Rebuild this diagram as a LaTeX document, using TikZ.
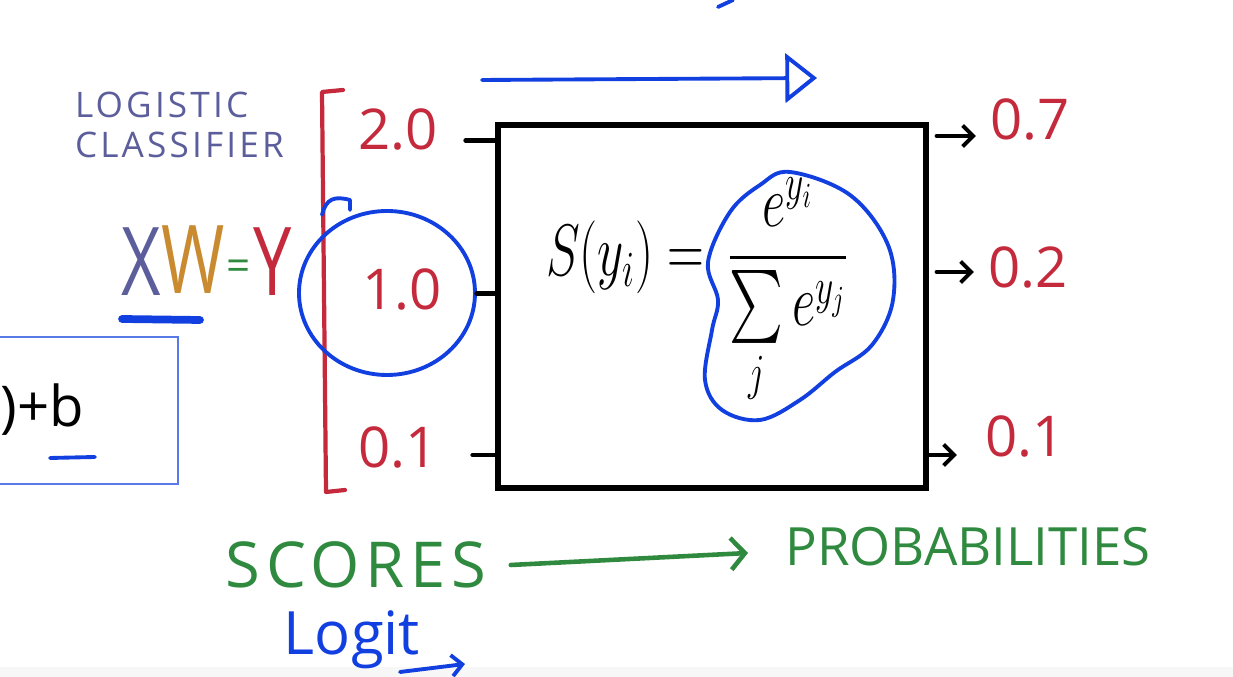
\documentclass[tikz,border=0pt]{standalone}
\usepackage{amsmath}
\usepackage{fontspec}
\setmainfont{Open Sans}
\newfontfamily\spacedfont[LetterSpace=9]{Open Sans}
\usetikzlibrary{arrows.meta, positioning, calc, shapes.geometric}

\definecolor{penblue}{HTML}{1240E0}
\definecolor{penred}{HTML}{C42A3C}
\definecolor{pengreen}{HTML}{2F8A3F}
\definecolor{penslate}{HTML}{5C5E9C}
\definecolor{penorange}{HTML}{C98A30}

\begin{document}
\begin{tikzpicture}[
    x=0.01cm, y=-0.01cm,
    every node/.style={inner sep=0pt, outer sep=0pt},
    hand/.style={line cap=round, line join=round},
    label/.style={font=\spacedfont\fontsize{10}{12}\selectfont, text=penslate},
    score/.style={font=\fontsize{16}{18}\selectfont, text=penred},
    bigsym/.style={font=\fontsize{27}{30}\selectfont, xscale=0.72},
    note/.style={font=\fontsize{18}{20}\selectfont, text=pengreen},
    stub/.style={hand, line width=1.4pt, black},
    outarr/.style={hand, line width=1.1pt, black, -{Straight Barb[length=3pt, width=6pt]}},
    blueline/.style={hand, line width=1.1pt, penblue}
]
\useasboundingbox (0,0) rectangle (1233,677);
\fill[black!3] (0,667) rectangle (1233,677);

% left part
\node[label, anchor=west] (logistic) at (75,105) {LOGISTIC};
\node[label, below=4pt of logistic.south west, anchor=north west] (classifier) {CLASSIFIER};

\node[bigsym, text=penslate]  (xsym) at (141,262) {X};
\node[bigsym, text=penorange] (wsym) at (193,260) {W};
\node[font=\fontsize{12}{14}\selectfont, text=pengreen] (eqsym) at (239,270) {=};
\node[bigsym, text=penred]    (ysym) at (273,262) {Y};
\draw[hand, line width=2.2pt, penblue] (122,319) -- (200,320);

\draw[penblue!70, line width=0.6pt] (-10,337) rectangle (178,484);
\node[font=\fontsize{16}{19}\selectfont, anchor=west] (bplus) at (1,410) {)+b};
\draw[blueline] (50,458) -- (95,457);

% scores
\draw[hand, line width=1.2pt, penred] (343,90) -- (322,92) -- (326,492) -- (345,490);
\node[score] (sc1) at (398,130) {2.0};
\node[score] (sc2) at (402,290) {1.0};
\node[score] (sc3) at (398,448) {0.1};

\draw[blueline] (387,293) ellipse [x radius=88, y radius=82];
\draw[blueline] (322,215) .. controls (326,198) and (335,196) .. (350,200) -- (350,210);

% softmax box
\node[draw, line width=1.5pt, minimum width=428*0.01cm, minimum height=363*0.01cm,
      anchor=north west] (sbox) at (498,125) {};
\draw[stub, shorten <=8pt] ([yshift=-3pt]sc1.east) -- ([yshift=-3pt]sc1.east -| sbox.west);
\draw[stub, shorten <=10pt] ([yshift=-1pt]sc2.east) -- ([yshift=-1pt]sc2.east -| sbox.west);
\draw[stub, shorten <=10pt] ([yshift=-2pt]sc3.east) -- ([yshift=-2pt]sc3.east -| sbox.west);

\node[font=\fontsize{20}{24}\selectfont, anchor=west, xscale=0.7] (formula) at (546,292)
  {$S(y_i) = \,\dfrac{e^{y_i}}{\sum\limits_j e^{y_j}}$};
\draw[blueline] plot[smooth cycle, tension=0.6] coordinates {
  (790,172) (850,195) (888,245) (893,300) (872,345) (835,372) (800,400)
  (760,420) (722,410) (705,380) (712,330) (718,300) (708,262) (730,212) (760,185)};

% top arrow
\draw[blueline, -{Triangle[open, length=9pt, width=14pt, line width=1.1pt]}] (482,80) -- (817,78);
\draw[blueline] (718,7) -- (733,0);

% probabilities
\node[score, anchor=west] (pr1) at (990,120) {0.7};
\node[score, anchor=west] (pr2) at (988,268) {0.2};
\node[score, anchor=west] (pr3) at (985,437) {0.1};
\draw[outarr, shorten <=3pt, shorten >=4pt] (sbox.east |- 0,136) -- (pr1.west |- 0,136);
\draw[outarr, shorten <=3pt, shorten >=4pt] (sbox.east |- 0,272) -- (pr2.west |- 0,272);
\draw[outarr, shorten >=8pt] (sbox.east |- 0,455) -- (pr3.west |- 0,455);

% captions
\node[note, font=\spacedfont\fontsize{18}{20}\selectfont] (scores) at (356,565) {SCORES};
\node[note, font=\fontsize{15}{18}\selectfont] (probs) at (968,547) {PROBABILITIES};
\coordinate (gtip) at (748,553);
\draw[hand, line width=1.3pt, pengreen, -{Straight Barb[length=4pt, width=9pt]}]
  ([xshift=7pt]scores.east) -- (gtip);
\node[font=\fontsize{17}{20}\selectfont, text=penblue] (logit) at (352,640) {Logit};
\draw[blueline, -{Straight Barb[length=3pt, width=6pt]}] (400,672) -- (465,664);
\end{tikzpicture}
\end{document}
